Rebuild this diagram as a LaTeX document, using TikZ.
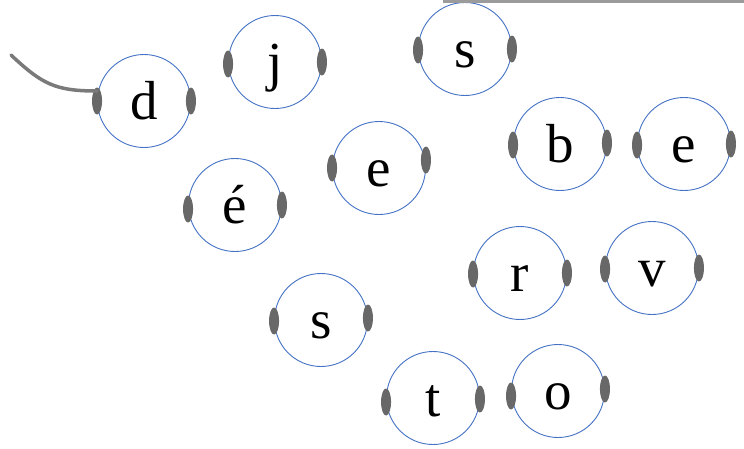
\documentclass[tikz,border=0pt]{standalone}
\usepackage{fontspec}
\setmainfont{Liberation Serif}
\usetikzlibrary{shapes.geometric,calc}
\definecolor{ringblue}{HTML}{4472C4}
\definecolor{handlegray}{HTML}{686868}
\definecolor{wiregray}{HTML}{7A7A7A}
\begin{document}
\begin{tikzpicture}[x=1pt,y=-1pt,
  ring/.style={circle, draw=ringblue, line width=0.9pt, minimum size=93pt, inner sep=0pt,
    font=\fontsize{55}{55}\selectfont, text height=36pt, text depth=0pt},
  handle/.style={ellipse, fill=handlegray, minimum width=10pt, minimum height=27pt, inner sep=0pt},
  wire/.style={draw=wiregray, line width=3.5pt, line cap=round}]
\useasboundingbox (0,0) rectangle (744,448);
\fill[white] (0,0) rectangle (744,448);
\node[ring] (d)  at (144,101) {d};
\node[ring] (j)  at (275,62)  {j};
\node[ring] (s1) at (465,49)  {s};
\node[ring] (b)  at (560,144) {b};
\node[ring] (e2) at (684,144) {e};
\node[ring] (e1) at (379,168) {e};
\node[ring] (ea) at (235,205) {é};
\node[ring] (r)  at (520,273) {r};
\node[ring] (v)  at (652,268) {v};
\node[ring] (s2) at (321,320) {s};
\node[ring] (t)  at (433,398) {t};
\node[ring] (o)  at (558,391) {o};
\foreach \n/\a/\b in {d/0/0, j/2/0, s1/1/0, b/1/-1, e2/1/0, e1/0/-8, ea/4/0, r/1/0, v/1/0, s2/1/-2, t/4/1, o/5/-2}{
  \node[handle] at ($(\n.west)+(0,\a)$) {};
  \node[handle] at ($(\n.east)+(0,\b)$) {};
}
\coordinate (tail) at (11,55);
\draw[wire] (tail) .. controls (42,84) and (55,91) .. ([yshift=10pt]d.west);
\coordinate (ta) at (443,1.5);
\coordinate (tb) at (744,1.5);
\draw[draw=wiregray!75, line width=3.5pt] (ta) -- (tb);
\end{tikzpicture}
\end{document}
